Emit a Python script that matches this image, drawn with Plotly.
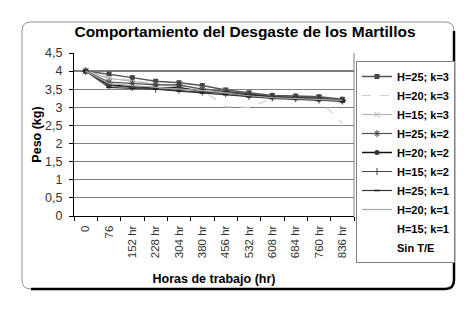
import plotly.graph_objects as go

categories = ["0", "76", "152 hr", "228 hr", "304 hr", "380 hr", "456 hr",
              "532 hr", "608 hr", "684 hr", "760 hr", "836 hr"]

h25_k3 = [4.00, 3.92, 3.82, 3.72, 3.68, 3.60, 3.48, 3.40, 3.33, 3.31, 3.29, 3.22]
h20_k3 = [4.00, 3.84, 3.74, 3.64, 3.58, 3.47, 3.02, 3.00, 3.24, 3.22, 3.20, 2.56]
h15_k3 = [4.00, 3.80, 3.72, 3.64, 3.60, 3.52, 3.45, 3.36, 3.28, 3.27, 3.24, 3.18]
h25_k2 = [4.00, 3.70, 3.66, 3.62, 3.62, 3.50, 3.44, 3.36, 3.30, 3.28, 3.26, 3.20]
h20_k2 = [4.00, 3.62, 3.57, 3.54, 3.55, 3.44, 3.40, 3.33, 3.28, 3.26, 3.22, 3.18]
h15_k2 = [4.00, 3.60, 3.55, 3.50, 3.47, 3.42, 3.38, 3.30, 3.26, 3.24, 3.20, 3.17]
h25_k1 = [4.00, 3.55, 3.52, 3.50, 3.45, 3.40, 3.35, 3.29, 3.25, 3.22, 3.19, 3.17]
h20_k1 = [4.00, 3.66, 3.60, 3.56, 3.52, 3.46, 3.40, 3.32, 3.27, 3.25, 3.22, 3.19]

y_ticks = [0, 0.5, 1, 1.5, 2, 2.5, 3, 3.5, 4, 4.5]
ref_level = 4.0

FONT = "Liberation Sans, Arial, sans-serif"

series = [
    ("H=25; k=3", h25_k3, dict(color="#555555", width=1.5, dash="solid"), dict(symbol="square", size=5, color="#444444")),
    ("H=20; k=3", h20_k3, dict(color="#d0d0d0", width=1.2, dash="dash"), None),
    ("H=15; k=3", h15_k3, dict(color="#b4b4b4", width=1.2, dash="solid"), dict(symbol="x-thin", size=5, line=dict(width=1, color="#b4b4b4"))),
    ("H=25; k=2", h25_k2, dict(color="#505050", width=1.2, dash="solid"), dict(symbol="asterisk", size=6, line=dict(width=1, color="#404040"))),
    ("H=20; k=2", h20_k2, dict(color="#111111", width=1.5, dash="solid"), dict(symbol="circle", size=5, color="#333333")),
    ("H=15; k=2", h15_k2, dict(color="#444444", width=1.0, dash="solid"), dict(symbol="cross-thin", size=5, line=dict(width=1, color="#444444"))),
    ("H=25; k=1", h25_k1, dict(color="#333333", width=1.2, dash="solid"), dict(symbol="line-ew", size=4, line=dict(width=1.5, color="#222222"))),
    ("H=20; k=1", h20_k1, dict(color="#a8a8a8", width=1.2, dash="solid"), None),
]

fig = go.Figure()
for name, vals, line, marker in series:
    kw = dict(x=categories, y=vals, name=name, line=line)
    if marker is None:
        kw["mode"] = "lines"
    else:
        kw["mode"] = "lines+markers"
        kw["marker"] = marker
    fig.add_trace(go.Scatter(**kw))

# legend-only entries without a visible symbol
for name in ["H=15; k=1", "Sin T/E"]:
    fig.add_trace(go.Scatter(x=[categories[0]], y=[ref_level], name=name, mode="lines",
                             line=dict(color="rgba(255,255,255,0)", width=1),
                             hoverinfo="skip"))

# layout geometry (px); page body has an 8px margin, so shift by -8
OFF = 8
W, H = 467, 327
L, R, T, B = 74 - OFF, 354 - OFF, 53 - OFF, 216 - OFF

def px(x):
    return (x - OFF - L) / (R - L)

def py(y):
    return (B - (y - OFF)) / (B - T)

def rounded(x0, y0, x1, y1, r):
    return (f"M {px(x0 + r)},{py(y0)} L {px(x1 - r)},{py(y0)} "
            f"Q {px(x1)},{py(y0)} {px(x1)},{py(y0 + r)} "
            f"L {px(x1)},{py(y1 - r)} Q {px(x1)},{py(y1)} {px(x1 - r)},{py(y1)} "
            f"L {px(x0 + r)},{py(y1)} Q {px(x0)},{py(y1)} {px(x0)},{py(y1 - r)} "
            f"L {px(x0)},{py(y0 + r)} Q {px(x0)},{py(y0)} {px(x0 + r)},{py(y0)} Z")

bx0, by0, bx1, by1, rr = 22, 22, 454, 289, 9
shadow = (f"M {px(bx1)},{py(by0 + rr)} L {px(bx1)},{py(by1 - rr)} "
          f"Q {px(bx1)},{py(by1)} {px(bx1 - rr)},{py(by1)} "
          f"L {px(bx0 + rr)},{py(by1)}")

fig.update_layout(
    width=W, height=H,
    margin=dict(l=L, r=W - R, t=T, b=H - B),
    paper_bgcolor="white", plot_bgcolor="white",
    separators=",.",
    font=dict(family=FONT, size=11, color="#222222"),
    title=dict(text="<b>Comportamiento del Desgaste de los Martillos</b>",
               font=dict(family=FONT, size=15.5, color="#000000"),
               x=(245 - OFF) / W, xanchor="center", y=1 - (32 - OFF) / H, yanchor="middle"),
    showlegend=True,
    legend=dict(x=px(356), y=py(61), xanchor="left", yanchor="top",
                bordercolor="#808080", borderwidth=1, bgcolor="white",
                font=dict(family=FONT, size=11, color="#000000", weight="bold"),
                itemwidth=30, tracegroupgap=0, maxheight=260),
    shapes=[
        dict(type="path", xref="paper", yref="paper", path=rounded(bx0, by0, bx1, by1, rr),
             line=dict(color="#909090", width=1), layer="below"),
        dict(type="path", xref="paper", yref="paper", path=shadow,
             line=dict(color="#000000", width=2.5), layer="above"),
        dict(type="line", xref="paper", yref="y", x0=0, x1=1, y0=ref_level, y1=ref_level,
             line=dict(color="#000000", width=1.2), layer="below"),
        dict(type="line", xref="paper", yref="paper", x0=1, x1=1, y0=0, y1=1,
             line=dict(color="#808080", width=1), layer="below"),
    ],
)

fig.update_xaxes(
    type="category", categoryorder="array", categoryarray=categories,
    tickson="boundaries", ticks="outside", ticklen=4, tickcolor="#000000",
    showline=True, linecolor="#000000", linewidth=1, showgrid=False,
    tickangle=-90, tickfont=dict(family=FONT, size=11.5, color="#333333"),
    ticklabelstandoff=4,
    title=dict(text="<b>Horas de trabajo (hr)</b>", font=dict(family=FONT, size=12.5, color="#000000"),
               standoff=17),
    range=[-0.5, len(categories) - 0.5],
)
fig.update_yaxes(
    range=[0, 4.5], tickvals=y_ticks, tickformat=",.1~f",
    ticks="outside", ticklen=4, tickcolor="#000000",
    showline=True, linecolor="#000000", linewidth=1,
    showgrid=True, gridcolor="#808080", gridwidth=1, zeroline=False,
    tickfont=dict(family=FONT, size=12.5, color="#333333"),
    ticklabelstandoff=4,
    title=dict(text="<b>Peso (kg)</b>", font=dict(family=FONT, size=12.5, color="#000000"),
               standoff=0),
)

fig.write_html("out.html")
